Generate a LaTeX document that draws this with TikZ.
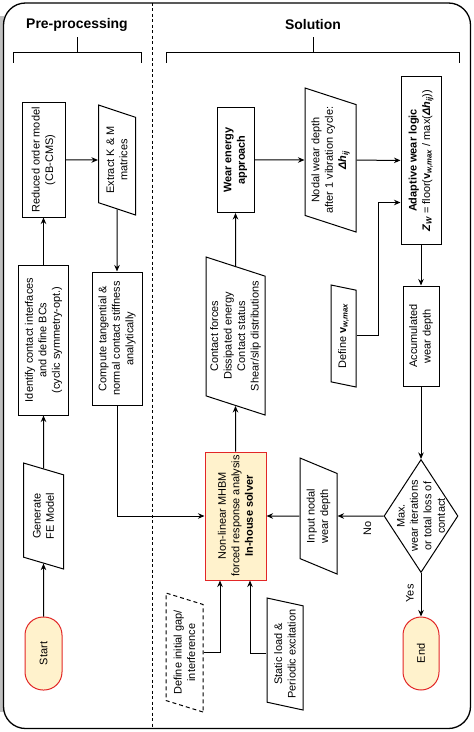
\documentclass[tikz,border=0pt]{standalone}
\usepackage{fontspec}
\setmainfont{Liberation Sans}
\usetikzlibrary{shapes.geometric,arrows.meta}
\definecolor{termfill}{RGB}{255,242,204}
\definecolor{termline}{RGB}{226,38,38}
\tikzset{
  proc/.style={draw, line width=1bp, rotate=90, align=center, inner sep=1bp,
    font=\fontsize{11}{13.5}\selectfont},
  io/.style={proc, trapezium, trapezium stretches body,
    trapezium left angle=#1, trapezium right angle=180-#1},
  term/.style={proc, fill=termfill, draw=termline, rounded corners=18bp},
  decide/.style={draw, line width=1bp, diamond, rotate=90, inner sep=0pt},
  flow/.style={line width=1bp, -{Stealth[length=6.5bp,width=5.5bp]}},
  txt/.style={rotate=90, align=center, font=\fontsize{11}{13.5}\selectfont},
  head/.style={font=\fontsize{14}{16}\selectfont\bfseries}
}
\begin{document}
\begin{tikzpicture}[x=1bp, y=-1bp]
  \useasboundingbox (0,0) rectangle (474,732);
  \fill[gray!50] (0,16) rectangle (3.5,712);
  \draw[line width=1.3bp, rounded corners=22bp] (3.5,3) rectangle (470.5,728.5);
  \draw[line width=1bp, dash pattern=on 3bp off 2.5bp] (152.5,3) -- (152.5,728.5);
  \node(PreHead) [head] at (77,25) {Pre-processing};
  \node(SolHead) [head] at (313,25) {Solution};
  \draw[line width=1bp] (13,63) -- (13,53) -- (141,53) -- (141,63) (77,53) -- (77,37);
  \draw[line width=1bp] (166,63) -- (166,53) -- (459,53) -- (459,63) (313,53) -- (313,37);

  \node(Rom)     [proc, minimum width=114bp, minimum height=43bp] at (43.5,160) {Reduced order model\\(CB-CMS)};
  \node(Extract) [io=62, minimum width=110bp, minimum height=37bp] at (117,160) {Extract K \& M\\matrices};
  \node(Ident)   [proc, minimum width=150bp, minimum height=50bp] at (43.5,340) {Identify contact interfaces\\and define BCs\\(cyclic symmetry-opt.)};
  \node(Stiff)   [proc, minimum width=133bp, minimum height=50bp] at (117,338.5) {Compute tangential \&\\normal contact stiffness\\analytically};
  \node(Gen)     [io=63, minimum width=106bp, minimum height=40bp] at (43.5,516) {Generate\\FE Model};
  \node(Start)   [term, minimum width=73bp, minimum height=37bp] at (43.5,653.5) {Start};

  \node(Solver)  [proc, fill=termfill, draw=termline, minimum width=128bp, minimum height=61bp] at (235.5,516) {Non-linear MHBM\\forced response analysis\\\textbf{In-house solver}};
  \node(Contact) [io=70, minimum width=158bp, minimum height=59bp] at (235.5,336) {Contact forces\\Dissipated energy\\Contact status\\Shear/slip distributions};
  \node(Wear)    [proc, minimum width=105bp, minimum height=37bp] at (235.5,160) {\textbf{Wear energy}\\\textbf{approach}};
  \node(Nodal)   [io=67.6, minimum width=144bp, minimum height=51bp] at (330.5,160) {Nodal wear depth\\after 1 vibration cycle:\\\textbf{\textit{Δh\textsubscript{ij}}}};
  \node(Adapt)   [proc, minimum width=167bp, minimum height=40bp] at (421,160.5) {\textbf{Adaptive wear logic}\\\textbf{\textit{Z\textsubscript{W}}} = floor(\textbf{v\textsubscript{\textit{w,max}}} / max(\textbf{\textit{Δh\textsubscript{ij}}}))};
  \node(DefV)    [io=68, minimum width=102bp, minimum height=25bp] at (343.5,336) {Define \textbf{v\textsubscript{\textit{w,max}}}};
  \node(Accum)   [proc, minimum width=100bp, minimum height=36bp] at (421,336) {Accumulated\\wear depth};
  \node(Check)   [decide, minimum width=113bp, minimum height=74bp] at (421,516) {};
  \node(CheckText) [txt] at (Check) {Max.\\wear iterations\\or total loss of\\contact};
  \node(Input)   [io=59, minimum width=116bp, minimum height=37bp] at (318.5,516) {Input nodal\\wear depth};
  \node(End)     [term, minimum width=73bp, minimum height=36bp] at (421,653.5) {End};
  \node(Gap)     [io=64, dash pattern=on 4bp off 3bp, minimum width=119bp, minimum height=37bp] at (184.5,652.5) {Define initial gap/\\interference};
  \node(Load)    [io=71.6, minimum width=112bp, minimum height=36bp] at (285,654) {Static load \&\\Periodic excitation};

  \draw[flow](Start) -- (Gen);
  \draw[flow](Gen) -- (Ident);
  \draw[flow](Ident) -- (Rom);
  \draw[flow](Rom) -- (Extract);
  \draw[flow](Extract) -- (Stiff);
  \draw[flow](Stiff) |- (Solver);
  \draw[flow](Gap.south) -| ([xshift=-15.5bp]Solver.west);
  \draw[flow](Load.north) -| ([xshift=14.5bp]Solver.west);
  \draw[flow](Solver) -- (Contact);
  \draw[flow](Contact) -- (Wear);
  \draw[flow](Wear) -- (Nodal);
  \draw[flow](Nodal) -- (Adapt);
  \draw[flow](DefV.south) -- ++(22,0) |- ([yshift=-42bp]Adapt.north);
  \draw[flow](Adapt) -- (Accum);
  \draw[flow](Accum) -- (Check);
  \draw[flow](Check) -- node[pos=0.35, yshift=-12bp, txt]{No} (Input);
  \draw[flow](Input) -- (Solver);
  \draw[flow](Check) -- node[pos=0.47, xshift=-11bp, txt]{Yes} (End);
\end{tikzpicture}
\end{document}
